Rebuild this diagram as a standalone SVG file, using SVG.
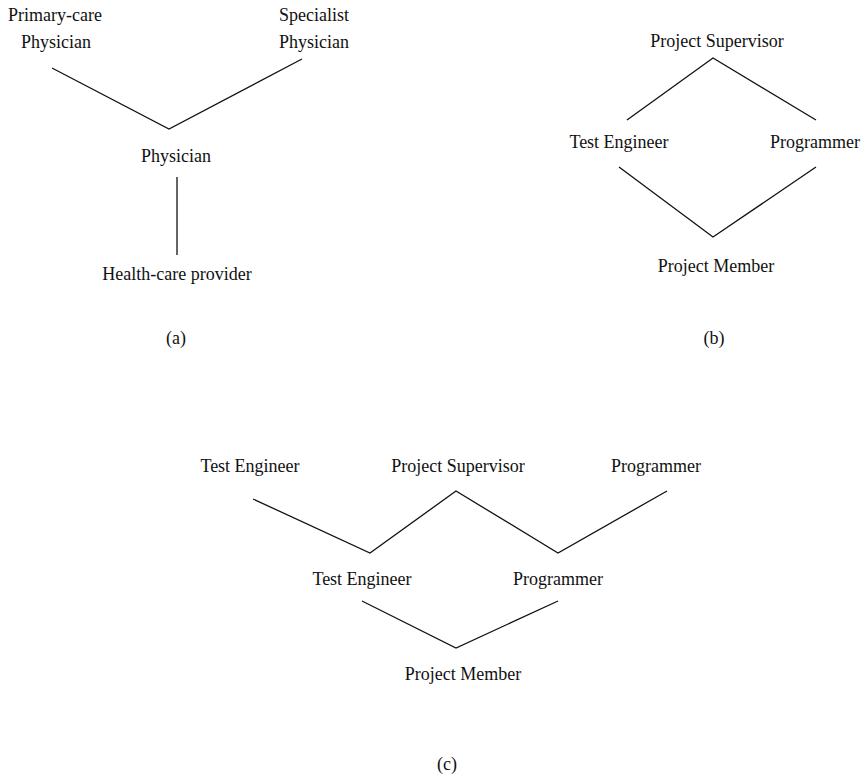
<svg xmlns="http://www.w3.org/2000/svg" width="865" height="778" viewBox="0 0 865 778">
  <style>
    text { font-family: "Liberation Serif", "Times New Roman", serif; font-size: 18px; fill: #111; text-anchor: middle; }
    .edge { fill: none; stroke: #111; stroke-width: 1.3; stroke-linejoin: miter; }
  </style>
  <rect width="865" height="778" fill="#fff"/>

  <!-- connectors -->
  <g id="connectors">
    <!-- (a) -->
    <polyline class="edge" points="52,68 169,129 302,59"/>
    <line class="edge" x1="177" y1="177" x2="177" y2="255"/>
    <!-- (b) -->
    <polyline class="edge" points="627,120 713,58 816,120"/>
    <polyline class="edge" points="619,167 713,237 816,167"/>
    <!-- (c) -->
    <polyline class="edge" points="253,499 370,553 456,491 558,553 667,491"/>
    <polyline class="edge" points="362,601 456,648 558,601"/>
  </g>

  <!-- (a) health-care hierarchy -->
  <g id="a-primary-care-physician">
    <text x="55" y="21">Primary-care</text>
    <text x="56" y="48">Physician</text>
  </g>
  <g id="a-specialist-physician">
    <text x="314" y="21">Specialist</text>
    <text x="314" y="48">Physician</text>
  </g>
  <g id="a-physician"><text x="176" y="162">Physician</text></g>
  <g id="a-health-care-provider"><text x="177" y="280">Health-care provider</text></g>
  <text x="176" y="344">(a)</text>

  <!-- (b) project diamond -->
  <g id="b-project-supervisor"><text x="717" y="47">Project Supervisor</text></g>
  <g id="b-test-engineer"><text x="619" y="148">Test Engineer</text></g>
  <g id="b-programmer"><text x="815" y="148">Programmer</text></g>
  <g id="b-project-member"><text x="716" y="272">Project Member</text></g>
  <text x="714" y="344">(b)</text>

  <!-- (c) expanded project hierarchy -->
  <g id="c-test-engineer-top"><text x="250" y="472">Test Engineer</text></g>
  <g id="c-project-supervisor"><text x="458" y="472">Project Supervisor</text></g>
  <g id="c-programmer-top"><text x="656" y="472">Programmer</text></g>
  <g id="c-test-engineer"><text x="362" y="585">Test Engineer</text></g>
  <g id="c-programmer"><text x="558" y="585">Programmer</text></g>
  <g id="c-project-member"><text x="463" y="680">Project Member</text></g>
  <text x="447" y="770">(c)</text>
</svg>
